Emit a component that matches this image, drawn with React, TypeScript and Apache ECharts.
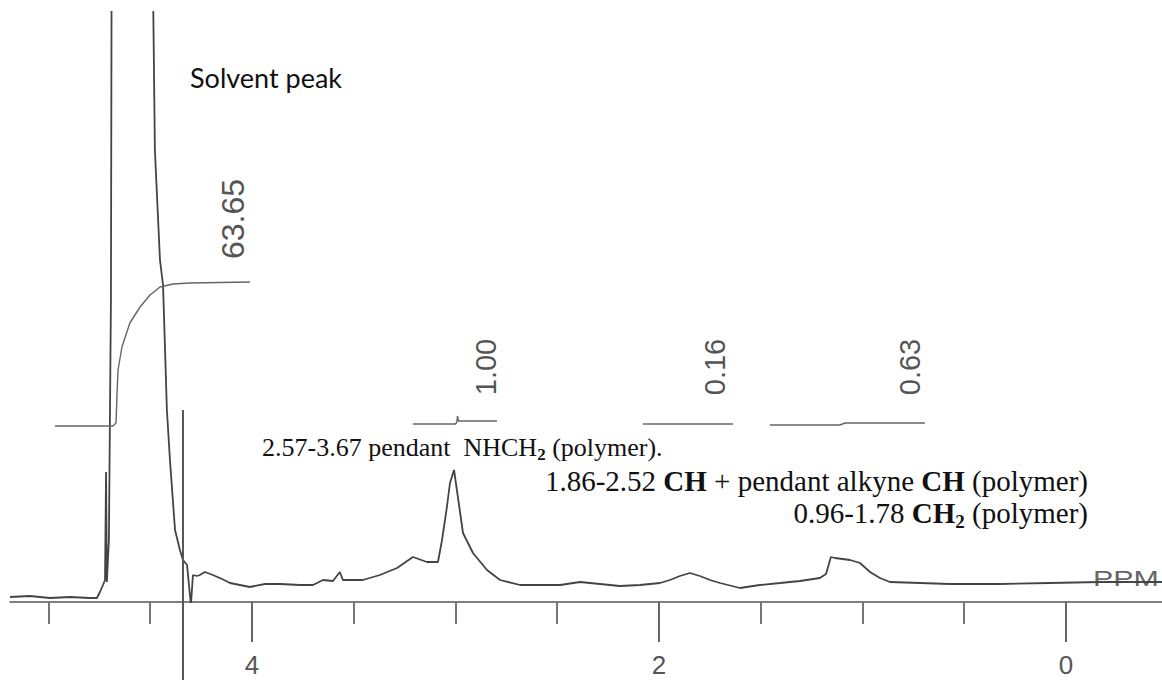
import React, { useEffect, useRef } from "react";
import * as echarts from "echarts";

// chemical shift axis (ppm)
const ppmMin = -0.472;
const ppmMax = 5.189;
const majorTicks = [0, 2, 4];
const minorTicks = [0.5, 1, 1.5, 2.5, 3, 3.5, 4.5, 5];

// 1H NMR trace (ppm, intensity)
const spectrumPpm = [5.189, 5.091, 4.993, 4.894, 4.796, 4.762, 4.747, 4.732, 4.722, 4.717, 4.713, 4.703, 4.693, 4.688, 4.59, 4.491, 4.477, 4.452, 4.437, 4.418, 4.403, 4.378, 4.354, 4.339, 4.319, 4.3, 4.29, 4.27, 4.256, 4.231, 4.192, 4.147, 4.108, 4.059, 4.01, 3.936, 3.862, 3.764, 3.7, 3.651, 3.602, 3.568, 3.553, 3.455, 3.371, 3.287, 3.209, 3.14, 3.086, 3.066, 3.042, 3.027, 3.007, 2.988, 2.963, 2.914, 2.845, 2.781, 2.683, 2.585, 2.486, 2.388, 2.29, 2.192, 2.093, 1.995, 1.946, 1.897, 1.848, 1.799, 1.749, 1.7, 1.602, 1.504, 1.405, 1.307, 1.209, 1.179, 1.155, 1.135, 1.061, 1.012, 0.963, 0.914, 0.865, 0.717, 0.57, 0.324, 0.079, -0.167, -0.472];
const spectrumIntensity = [5, 6, 4, 5, 4, 4, 10, 17, 22, 130, 20, 62, 302, 802, 3000, 702, 452, 342, 317, 192, 142, 72, 52, 42, 37, -3, 27, 26, 27, 30, 27, 23, 19, 17, 15, 18, 18, 17, 17, 22, 21, 30, 22, 22, 27, 34, 45, 40, 40, 62, 95, 119, 132, 105, 69, 49, 32, 22, 17, 17, 17, 20, 18, 16, 17, 19, 22, 26, 29, 26, 22, 19, 14, 17, 19, 21, 24, 28, 45, 44, 42, 39, 30, 24, 20, 19, 18, 18, 19, 20, 20];

// artifact spike crossing the axis
const artifactPpm = [4.339, 4.339];
const artifactIntensity = [192, -78];

// integration traces
const solventIntPpm = [4.968, 4.683, 4.668, 4.663, 4.658, 4.639, 4.6, 4.55, 4.501, 4.452, 4.388, 4.305, 4.01];
const solventIntVal = [176, 176, 179, 209, 232, 255, 279, 295, 307, 315, 318, 319, 320];
const int1Ppm = [3.209, 3.0, 2.993, 2.99, 2.985, 2.796];
const int1Val = [178, 178, 180, 186, 181, 181];
const int2Ppm = [2.079, 1.636];
const int2Val = [178, 178];
const int3Ppm = [1.455, 1.111, 1.086, 0.693];
const int3Val = [177, 177, 179, 179];

const integralLabels = ["63.65", "1.00", "0.16", "0.63"];

const zip = (a: number[], b: number[]) => a.map((v, i) => [v, b[i]]);

export default function App() {
  const ref = useRef<HTMLDivElement>(null);
  useEffect(() => {
    if (!ref.current) return;
    const chart = echarts.init(ref.current, undefined, { renderer: "svg" });
    const axisGray = "#555";
    const serif = "'Liberation Serif', 'Times New Roman', serif";
    const sans = "'Liberation Sans', Arial, sans-serif";
    const intStyle = { color: "#666", width: 1.4 };
    const mkInt = (p: number[], v: number[]) => ({
      type: "line",
      data: zip(p, v),
      showSymbol: false,
      lineStyle: intStyle,
      xAxisIndex: 0,
      silent: true,
    });
    const txt = (o: any) => ({
      type: "text",
      silent: true,
      ...o,
      style: {
        ...o.style,
        textAlign: o.style.align,
        textVerticalAlign: o.style.verticalAlign,
      },
    });
    const integralPos = [
      [233, 219, 32],
      [486, 367, 29],
      [715, 367, 29],
      [910, 367, 29],
    ];
    chart.setOption({
      animation: false,
      grid: { left: 10, right: 0, top: 12, bottom: 78, outerBoundsMode: "none", containLabel: false },
      xAxis: [
        {
          type: "value",
          min: ppmMin,
          max: ppmMax,
          inverse: true,
          position: "bottom",
          axisLine: { show: true, onZero: false, lineStyle: { color: axisGray, width: 1.6 } },
          axisTick: { show: true, customValues: majorTicks, length: 40, lineStyle: { color: "#666", width: 2 } },
          axisLabel: {
            show: true,
            customValues: majorTicks,
            margin: 50,
            fontSize: 26,
            fontFamily: sans,
            color: axisGray,
          },
          splitLine: { show: false },
        },
        {
          type: "value",
          min: ppmMin,
          max: ppmMax,
          inverse: true,
          position: "bottom",
          axisLine: { show: false, onZero: false },
          axisTick: { show: true, customValues: minorTicks, length: 22, lineStyle: { color: "#777", width: 2 } },
          axisLabel: { show: false },
          splitLine: { show: false },
        },
      ],
      yAxis: { type: "value", min: 0, max: 590, show: false, splitLine: { show: false } },
      series: [
        {
          type: "line",
          data: zip(spectrumPpm, spectrumIntensity),
          showSymbol: false,
          lineStyle: { color: "#444", width: 1.8 },
          xAxisIndex: 0,
          silent: true,
        },
        {
          type: "line",
          data: zip(artifactPpm, artifactIntensity),
          showSymbol: false,
          clip: false,
          lineStyle: { color: "#555", width: 2 },
          xAxisIndex: 0,
          silent: true,
        },
        mkInt(solventIntPpm, solventIntVal),
        mkInt(int1Ppm, int1Val),
        mkInt(int2Ppm, int2Val),
        mkInt(int3Ppm, int3Val),
      ],
      graphic: [
        ...integralLabels.map((t, i) =>
          txt({
            x: integralPos[i][0],
            y: integralPos[i][1],
            rotation: Math.PI / 2,
            style: {
              text: t,
              fontSize: integralPos[i][2],
              fontFamily: sans,
              fill: "#555",
              align: "center",
              verticalAlign: "middle",
            },
          })
        ),
        txt({
          x: 190,
          y: 77,
          style: {
            text: "Solvent peak",
            fontSize: 27,
            fontFamily: "Lato, 'Open Sans', sans-serif",
            fill: "#111",
            align: "left",
            verticalAlign: "middle",
          },
        }),
        txt({
          x: 262,
          y: 447,
          style: {
            text: "{n|2.57-3.67 pendant  NHCH}{s|2}{n| (polymer).}",
            fontSize: 26,
            fontFamily: serif,
            fill: "#111",
            align: "left",
            verticalAlign: "middle",
            rich: {
              n: { fontSize: 26, fontFamily: serif, fill: "#111", color: "#111" },
              s: { fontSize: 17, fontFamily: serif, fontWeight: "bold", fill: "#111", color: "#111", verticalAlign: "top", padding: [15, 0, 0, 0] },
            },
          },
        }),
        txt({
          x: 1088,
          y: 481,
          style: {
            text: "{n|1.86-2.52 }{b|CH}{n| + pendant alkyne }{b|CH}{n| (polymer)}",
            fontSize: 29,
            fontFamily: serif,
            fill: "#111",
            align: "right",
            verticalAlign: "middle",
            rich: {
              n: { fontSize: 29, fontFamily: serif, fill: "#111", color: "#111" },
              b: { fontSize: 29, fontFamily: serif, fontWeight: "bold", fill: "#111", color: "#111" },
            },
          },
        }),
        txt({
          x: 1088,
          y: 513,
          style: {
            text: "{n|0.96-1.78 }{b|CH}{s|2}{n| (polymer)}",
            fontSize: 29,
            fontFamily: serif,
            fill: "#111",
            align: "right",
            verticalAlign: "middle",
            rich: {
              n: { fontSize: 29, fontFamily: serif, fill: "#111", color: "#111" },
              b: { fontSize: 29, fontFamily: serif, fontWeight: "bold", fill: "#111", color: "#111" },
              s: { fontSize: 19, fontFamily: serif, fontWeight: "bold", fill: "#111", color: "#111", verticalAlign: "top", padding: [17, 0, 0, 0] },
            },
          },
        }),
        txt({
          x: 1093,
          y: 579,
          scaleX: 1.38,
          style: {
            text: "PPM",
            fontSize: 22,
            fontFamily: sans,
            fill: "#666",
            align: "left",
            verticalAlign: "middle",
          },
        }),
      ],
    });
    return () => chart.dispose();
  }, []);
  return (
    <div
      ref={ref}
      style={{ position: "absolute", left: 0, top: 0, width: 1162, height: 680, background: "#fff" }}
    />
  );
}
